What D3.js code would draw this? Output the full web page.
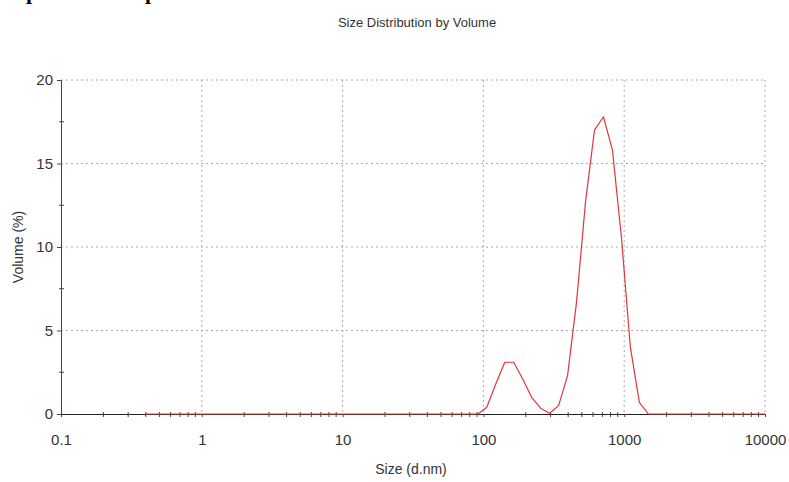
<!DOCTYPE html>
<html>
<head>
<meta charset="utf-8">
<script src="https://cdn.jsdelivr.net/npm/d3@7"></script>
<style>
  body { margin: 0; background: #fff; }
  svg { display: block; }
  text { font-family: "Liberation Sans", Arial, sans-serif; fill: #333; }
</style>
</head>
<body>
<svg id="chart" width="789" height="482"></svg>
<script>
// values (size bins in d.nm, volume in %)
const sizes = [0.4, 91.28, 105.7, 122.4, 141.8, 164.2, 190.1, 220.2, 255.0, 295.3, 342.0,
  396.1, 458.7, 531.2, 615.1, 712.4, 825.0, 955.4, 1106, 1281, 1484, 10000];
const volume = [0, 0, 0.4, 1.8, 3.1, 3.1, 2.1, 1.0, 0.35, 0.05, 0.5,
  2.3, 6.7, 12.7, 17.0, 17.8, 15.8, 10.6, 4.0, 0.7, 0, 0];

const xTicks = [0.1, 1, 10, 100, 1000, 10000];
const xTickLabels = ['0.1', '1', '10', '100', '1000', '10000'];
const yTicks = [0, 5, 10, 15, 20];
const yMinorTicks = [2.5, 7.5, 12.5, 17.5];

const svg = d3.select('#chart'),
  margin = {top: 80, right: 24, bottom: 68, left: 61},
  width = +svg.attr('width') - margin.left - margin.right,
  height = +svg.attr('height') - margin.top - margin.bottom,
  g = svg.append('g').attr('transform', 'translate(' + margin.left + ',' + margin.top + ')');

const x = d3.scaleLog().domain([0.1, 10000]).range([0, width]);
const y = d3.scaleLinear().domain([0, 20]).range([height, 0]);

// clipped bold caption line above the chart
svg.selectAll('.cap')
  .data(['p', 'p'])
  .enter().append('text')
  .attr('x', function (d, i) { return i === 0 ? 26 : 145; })
  .attr('y', -1)
  .style('font-family', '"Liberation Serif", "Times New Roman", serif')
  .style('font-weight', 'bold')
  .style('font-size', '22px')
  .style('fill', '#000')
  .text(function (d) { return d; });

// title
svg.append('text')
  .attr('x', margin.left + width / 2 + 4)
  .attr('y', 27)
  .attr('text-anchor', 'middle')
  .style('font-size', '13px')
  .text('Size Distribution by Volume');

// grid
g.selectAll('.hgrid')
  .data(yTicks.slice(1))
  .enter().append('line')
  .attr('x1', 0).attr('x2', width)
  .attr('y1', function (d) { return y(d); })
  .attr('y2', function (d) { return y(d); })
  .attr('stroke', '#aaa')
  .attr('stroke-dasharray', '2,3');

g.selectAll('.vgrid')
  .data(xTicks.slice(1))
  .enter().append('line')
  .attr('x1', function (d) { return x(d); })
  .attr('x2', function (d) { return x(d); })
  .attr('y1', 0).attr('y2', height)
  .attr('stroke', '#aaa')
  .attr('stroke-dasharray', '2,3');

// x axis
const xAxis = g.append('g')
  .attr('transform', 'translate(0,' + height + ')')
  .call(d3.axisBottom(x)
    .tickValues(xTicks)
    .tickFormat(function (d, i) { return xTickLabels[i]; })
    .tickSize(3)
    .tickPadding(17));
xAxis.select('.domain').attr('stroke', '#222');
xAxis.selectAll('.tick line').attr('stroke', '#444');
xAxis.selectAll('text').style('font-size', '15px').style('fill', '#333');

g.selectAll('.xminor')
  .data(x.ticks().filter(function (d) { return xTicks.indexOf(d) < 0; }))
  .enter().append('line')
  .attr('x1', function (d) { return x(d); })
  .attr('x2', function (d) { return x(d); })
  .attr('y1', height - 2).attr('y2', height + 3)
  .attr('stroke', '#444');

// y axis
const yAxis = g.append('g')
  .call(d3.axisLeft(y)
    .tickValues(yTicks)
    .tickSize(4)
    .tickPadding(4));
yAxis.select('.domain').attr('stroke', '#444');
yAxis.selectAll('.tick line').attr('stroke', '#444');
yAxis.selectAll('text').style('font-size', '15px').style('fill', '#333');

g.selectAll('.yminor')
  .data(yMinorTicks)
  .enter().append('line')
  .attr('x1', -2).attr('x2', 3)
  .attr('y1', function (d) { return y(d); })
  .attr('y2', function (d) { return y(d); })
  .attr('stroke', '#444');

// data line, on top of the axis
const line = d3.line()
  .x(function (d, i) { return x(sizes[i]); })
  .y(function (d) { return y(d); });

g.append('path')
  .datum(volume)
  .attr('fill', 'none')
  .attr('stroke', '#e3343c')
  .attr('stroke-width', 1.2)
  .attr('stroke-linejoin', 'round')
  .attr('d', line);

// axis titles
svg.append('text')
  .attr('x', margin.left + width / 2 - 2)
  .attr('y', 474)
  .attr('text-anchor', 'middle')
  .style('font-size', '14px')
  .text('Size (d.nm)');

svg.append('text')
  .attr('transform', 'translate(23,' + (margin.top + height / 2) + ') rotate(-90)')
  .attr('text-anchor', 'middle')
  .style('font-size', '14px')
  .text('Volume (%)');
</script>
</body>
</html>
